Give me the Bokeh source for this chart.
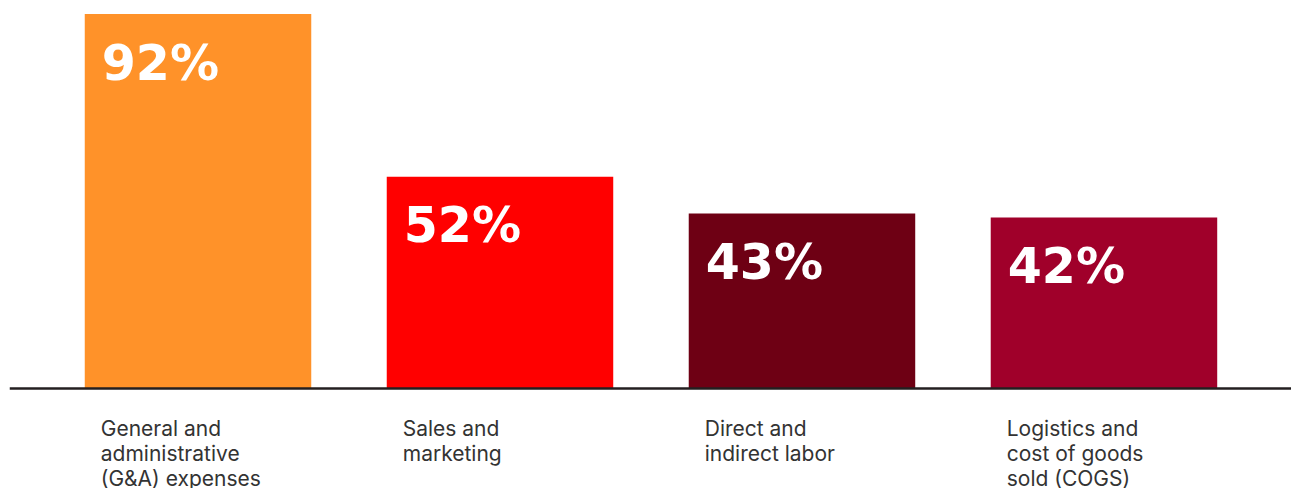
from bokeh.plotting import figure
from bokeh.models import ColumnDataSource, Span, Range1d
from bokeh.core.properties import value
from bokeh.embed import file_html
from bokeh.resources import INLINE

categories = ["General and\nadministrative\n(G&A) expenses", "Sales and\nmarketing",
              "Direct and\nindirect labor", "Logistics and\ncost of goods\nsold (COGS)"]
values = [92, 52, 43, 42]
labels = ["92%", "52%", "43%", "42%"]
colors = ["#FF9229", "#FF0000", "#6E0014", "#A0002A"]

idx = list(range(len(values)))
bar_w = 0.75
src = ColumnDataSource(dict(x=idx, top=values, left=[i - bar_w / 2 for i in idx],
                            cat=categories, lab=labels, color=colors))

p = figure(width=1291, height=488, output_backend="svg", toolbar_location=None,
           x_range=Range1d(-0.6242, 3.621), y_range=Range1d(-24.57, 95.33),
           min_border=0, min_border_left=9, outline_line_color=None)
p.axis.visible = False
p.grid.visible = False
p.background_fill_color = "white"
p.border_fill_color = "white"

p.vbar(x="x", top="top", bottom=0, width=bar_w, color="color", line_color=None, source=src)

p.add_layout(Span(location=0, dimension="width", line_color="#231F20", line_width=2.5))

p.text(x="left", y="top", text="lab", source=src, x_offset=17, y_offset=49,
       text_font=value("DejaVu Sans"), text_font_style="bold", text_font_size="49px",
       text_color="white", text_baseline="middle", text_align="left")

p.text(x="left", y=0, text="cat", source=src, x_offset=16, y_offset=28,
       text_font=value("Inter"), text_font_size="21px", text_color="#333333",
       text_baseline="top", text_align="left", text_line_height=1.0)

open("out.html", "w").write(file_html(p, INLINE))
